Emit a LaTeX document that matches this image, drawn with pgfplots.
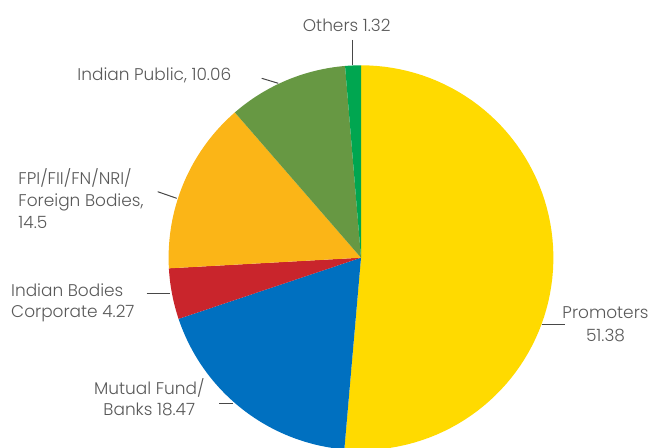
\documentclass[border=0pt]{standalone}
\usepackage{pgfplots}
\pgfplotsset{compat=1.18}
\usepackage{fontspec}
\setmainfont{Poppins}[UprightFont=* Light]

\definecolor{cPro}{HTML}{FFDA00}
\definecolor{cMF}{HTML}{0070C0}
\definecolor{cIB}{HTML}{C9252C}
\definecolor{cFPI}{HTML}{FBB517}
\definecolor{cIP}{HTML}{679843}
\definecolor{cOth}{HTML}{00A650}
\definecolor{txt}{HTML}{595959}

% shares in per cent, clockwise from the top
\def\vPro{51.38}
\def\vMF{18.47}
\def\vIB{4.27}
\def\vFPI{14.5}
\def\vIP{10.06}
\def\vOth{1.32}

\pgfmathsetmacro\sMF{\vPro}
\pgfmathsetmacro\sIB{\sMF+\vMF}
\pgfmathsetmacro\sFPI{\sIB+\vIB}
\pgfmathsetmacro\sIP{\sFPI+\vFPI}
\pgfmathsetmacro\sOth{\sIP+\vIP}

% centre and radius in px
\def\cx{361}
\def\cy{190.3}
\def\rr{192.4}

\newcommand\slice[3]{%
  \addplot[fill=#3, draw=none, domain=#1:#1+#2, samples=80, variable=\t]
    ({\cx+\rr*sin(3.6*\t)}, {\cy+\rr*cos(3.6*\t)}) -- (axis cs:\cx,\cy) -- cycle;
}

\begin{document}
\begin{tikzpicture}
\useasboundingbox (0,0) rectangle (652bp,448bp);
\begin{axis}[
    at={(0,0)}, anchor=south west,
    x=1bp, y=1bp, scale only axis,
    xmin=0, xmax=652, ymin=0, ymax=448,
    hide axis, clip=false,
]
  \slice{0}{\vPro}{cPro}
  \slice{\sMF}{\vMF}{cMF}
  \slice{\sIB}{\vIB}{cIB}
  \slice{\sFPI}{\vFPI}{cFPI}
  \slice{\sIP}{\vIP}{cIP}
  \slice{\sOth}{\vOth}{cOth}

  \begin{scope}[every node/.style={inner sep=0pt, text=txt, font=\fontsize{17}{20}\selectfont}]
    \draw[txt!80!black, line width=1bp] (axis cs:352,408) -- (axis cs:352,383);
    \node[anchor=base west] at (axis cs:302.7,416.3) {Others 1.32};

    \draw[txt!80!black, line width=1bp] (axis cs:261.7,369.7) -- (axis cs:278.3,364.7);
    \node[anchor=base west] at (axis cs:77.3,367) {Indian Public, 10.06};

    \draw[txt!80!black, line width=1bp] (axis cs:157.7,256.3) -- (axis cs:176.7,249.7);
    \node[anchor=base west] at (axis cs:18.3,263) {FPI/FII/FN/NRI/};
    \node[anchor=base west] at (axis cs:18.3,241.3) {Foreign Bodies,};
    \node[anchor=base west] at (axis cs:18.3,219) {14.5};

    \draw[txt!80!black, line width=1bp] (axis cs:146.7,154.7) -- (axis cs:170,154.7);
    \node[anchor=base west] at (axis cs:11,151.3) {Indian Bodies};
    \node[anchor=base west] at (axis cs:11,130.3) {Corporate 4.27};

    \draw[txt!80!black, line width=1bp] (axis cs:219.3,44.7) -- (axis cs:233,44.7);
    \node[anchor=base] at (axis cs:149.3,54) {Mutual Fund/};
    \node[anchor=base] at (axis cs:149.3,32.3) {Banks 18.47};

    \draw[txt!80!black, line width=1bp] (axis cs:541.7,123.7) -- (axis cs:565,123.7);
    \node[anchor=base] at (axis cs:605.5,129.7) {Promoters};
    \node[anchor=base] at (axis cs:605.5,106.3) {51.38};
  \end{scope}
\end{axis}
\end{tikzpicture}
\end{document}
